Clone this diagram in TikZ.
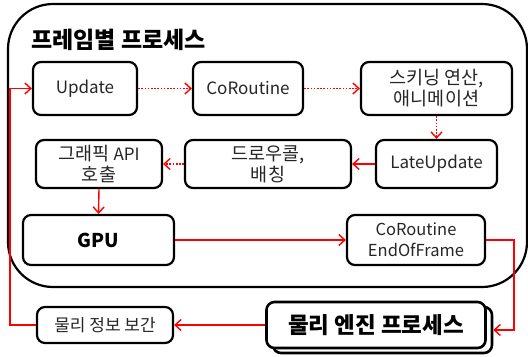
\documentclass[tikz,border=0pt]{standalone}
\usepackage{fontspec}
\setmainfont{Noto Sans CJK KR}
\usetikzlibrary{arrows.meta}
\definecolor{lnred}{HTML}{FF0000}
\definecolor{txt}{HTML}{262626}
\newcommand{\kfs}{\fontsize{18.5bp}{21bp}\selectfont}
\newcommand{\lfs}{\fontsize{17bp}{21bp}\selectfont}
\tikzset{
  box/.style={draw=black, line width=2.2bp, rounded corners=8bp, fill=white, text=txt, align=center,
    font=\lfs, inner sep=0pt},
  solidarr/.style={draw=lnred, line width=1.4bp, -{Straight Barb[length=6bp,width=11bp,line width=1.4bp]}},
  dotarr/.style={draw=lnred, line width=1.7bp, dash pattern=on 1.7bp off 1.5bp, -{Straight Barb[length=6bp,width=11bp,line width=1.4bp]}},
}
\begin{document}
\begin{tikzpicture}[x=1bp, y=-1bp]
\useasboundingbox (0,0) rectangle (528,356);
% big frame
\draw[line width=2.2bp, rounded corners=45bp] (8,4) rectangle (527,287);
\node[anchor=west, inner sep=0pt, font=\bfseries\fontsize{23bp}{25bp}\selectfont] (title) at (31,40) {프레임별 프로세스};

% boxes
\node[box, minimum width=104bp, minimum height=53bp] (upd) at (85,88.5) {Update};
\node[box, minimum width=110bp, minimum height=53bp] (cor) at (248,88.5) {CoRoutine};
\node[box, minimum width=151bp, minimum height=53bp, font=\kfs] (skin) at (436.5,88.5) {스키닝 연산,\\애니메이션};
\node[box, minimum width=121bp, minimum height=48bp] (late) at (436.5,164) {LateUpdate};
\node[box, minimum width=166bp, minimum height=48bp, font=\kfs] (draw) at (268,164) {드로우콜,\\배칭};
\node[box, minimum width=126bp, minimum height=48bp, font=\kfs] (api) at (99,164) {그래픽 {\lfs API}\\호출};
\node[box, minimum width=151bp, minimum height=50bp, font=\bfseries\fontsize{19bp}{22bp}\selectfont, text=black] (gpu) at (98.5,240) {GPU};
\node[box, minimum width=138bp, minimum height=50bp, font=\fontsize{16.5bp}{21bp}\selectfont] (eof) at (416,240) {CoRoutine\\EndOfFrame};
% physics engine box with shadow copy
\node[box, line width=2.6bp, minimum width=219bp, minimum height=46bp] (physsh) at (382.5,330) {};
\node[box, line width=2.6bp, minimum width=219bp, minimum height=46bp, font=\bfseries\fontsize{22.5bp}{24bp}\selectfont, text=black] (phys) at (376,325) {물리 엔진 프로세스};
\node[box, minimum width=136bp, minimum height=36bp, font=\fontsize{17bp}{19bp}\selectfont] (interp) at (105,325) {물리 정보 보간};

% connectors
\draw[dotarr] (upd.east) -- (cor.west);
\draw[dotarr] (cor.east) -- (skin.west);
\draw[dotarr] (skin.south) -- (late.north);
\draw[solidarr] (late.west) -- (draw.east);
\draw[dotarr] (draw.west) -- (api.east);
\draw[solidarr] (api.south) -- (gpu.north);
\draw[solidarr] (gpu.east) -- (eof.west);
\coordinate (c1) at (514,240);
\coordinate (c2) at (514,330);
\draw[solidarr] (eof.east) -- (c1) -- (c2) -- (physsh.east);
\draw[solidarr] (phys.west) -- (interp.east);
\coordinate (c3) at (10,325);
\coordinate (c4) at (10,88.5);
\draw[solidarr] (interp.west) -- (c3) -- (c4) -- (upd.west);
\end{tikzpicture}
\end{document}
